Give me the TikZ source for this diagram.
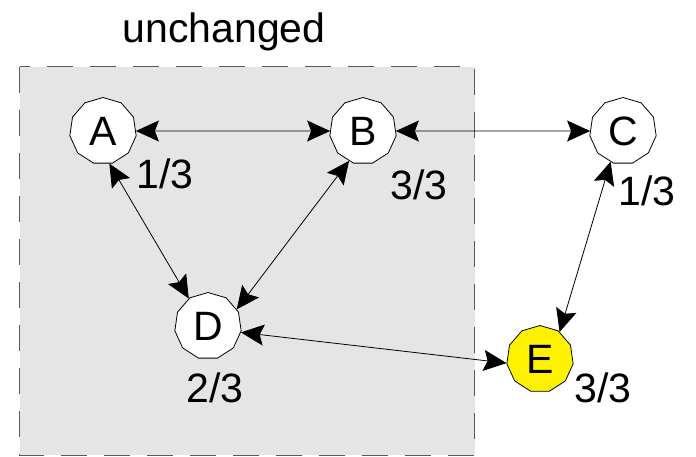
\documentclass[tikz,border=0pt]{standalone}
\usepackage{fontspec}
\setmainfont{Liberation Sans}
\usetikzlibrary{shapes.geometric,arrows.meta}
\tikzset{
  vtx/.style={draw=black, line width=0.8pt, fill=white, regular polygon, regular polygon sides=11, minimum size=67pt, inner sep=0pt, font=\fontsize{41}{49}\selectfont},
  lbl/.style={inner sep=0pt, font=\fontsize{41}{49}\selectfont},
  link/.style={line width=0.8pt, {Stealth[length=23pt,width=21pt,inset=4pt]}-{Stealth[length=23pt,width=21pt,inset=4pt]}},
  region/.style={fill=black!10, draw=black!65, line width=1pt, dash pattern=on 26pt off 17pt}
}
\begin{document}
\begin{tikzpicture}[x=1pt,y=-1pt]
\useasboundingbox (0,0) rectangle (696,456);
\path[region] (19.5,66.5) rectangle (474.5,455);
\node[lbl, anchor=base] (title) at (224,42) {unchanged};
\node[vtx] (A) at (103,131) {A};
\node[vtx] (B) at (363,131) {B};
\node[vtx] (C) at (623,131) {C};
\node[vtx] (D) at (208,326) {D};
\node[vtx, fill=yellow] (E) at (540,359) {E};
\node[lbl] (lA) at (165,174) {1/3};
\node[lbl] (lB) at (419,185) {3/3};
\node[lbl] (lC) at (647,191) {1/3};
\node[lbl] (lD) at (215,388) {2/3};
\node[lbl] (lE) at (603,388) {3/3};
\draw[link] (A) -- (B);
\draw[link] (B) -- (C);
\draw[link] (A.281) -- (D.125);
\draw[link] (B.245) -- (D.30);
\draw[link] (D.-11) -- (E.187);
\draw[link] (C.248) -- (E.54);
\end{tikzpicture}
\end{document}
